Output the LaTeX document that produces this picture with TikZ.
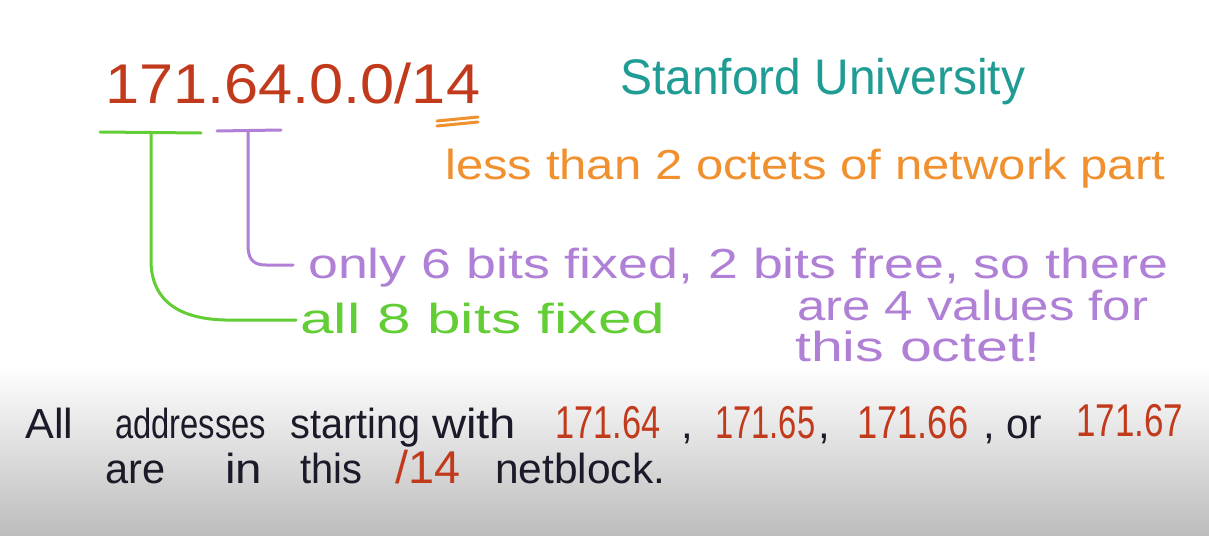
\documentclass[tikz,border=0pt]{standalone}
\usepackage{fontspec}
\setmainfont{Liberation Sans}
\usepackage{graphicx}
\definecolor{ipred}{HTML}{C23A1C}
\definecolor{teal2}{HTML}{1F9C94}
\definecolor{orng}{HTML}{F0902E}
\definecolor{purp}{HTML}{B07FD6}
\definecolor{grn}{HTML}{62CD35}
\definecolor{ink}{HTML}{1A1A28}
\definecolor{bggray}{HTML}{BDBDBD}
\newsavebox\fitbox
\newcommand\fitw[2]{\sbox\fitbox{#2}\pgfmathsetmacro\fitfac{#1/(\the\wd\fitbox)}\scalebox{\fitfac}[1]{\usebox\fitbox}}
\tikzset{
  txt/.style={anchor=base west, inner sep=0pt, font=\fontsize{42}{46}\selectfont},
  numtxt/.style={txt, font=\fontsize{46}{50}\selectfont},
  bigtxt/.style={txt, font=\fontsize{56}{60}\selectfont},
  pen/.style={line width=3pt, line cap=round, line join=round},
}
\begin{document}
\begin{tikzpicture}[x=1pt,y=-1pt]
\useasboundingbox (0,0) rectangle (1209,535);
\fill[white] (0,0) rectangle (1209,366);
\shade[top color=white, bottom color=bggray] (0,365) rectangle (1209,535);

% address
\node[bigtxt, text=ipred] (ip) at (105,103) {\fitw{375}{171.64.0.0/14}};
\draw[pen, orng] (437,121) -- (478,117);
\draw[pen, orng] (437,126) -- (478,122);

\node[txt, font=\fontsize{50}{54}\selectfont, text=teal2] (stan) at (620,94) {\fitw{405}{Stanford University}};
\node[txt, text=orng] (less) at (445,179) {\fitw{720}{less than 2 octets of network part}};

\node[txt, text=purp] (only) at (308,278) {\fitw{860}{only 6 bits fixed, 2 bits free, so there}};
\node[txt, text=purp] (are4) at (797,320) {\fitw{351}{are 4 values for}};
\node[txt, text=purp] (octet) at (795,361) {\fitw{245}{this octet!}};
\node[txt, text=grn] (all8) at (300,333) {\fitw{365}{all 8 bits fixed}};

% brackets
\coordinate (gL) at (100,132);
\coordinate (gR) at (201,133);
\coordinate (gM) at (151,132);
\draw[pen, grn] (gL) -- (gR);
\draw[pen, grn] (gM) -- (151,262) .. controls (152,305) and (185,319) .. (225,320) -- ([xshift=-4pt]all8.west |- 0,320);

\coordinate (pL) at (217,131);
\coordinate (pR) at (281,130);
\coordinate (pM) at (248,131);
\draw[pen, purp] (pL) -- (pR);
\draw[pen, purp] (pM) -- (248,248) .. controls (249,261) and (255,265) .. (266,265) -- ([xshift=-15pt]only.west |- 0,265);

% bottom text
\node[txt, text=ink] (w1) at (25,438) {\fitw{48}{All}};
\node[txt, text=ink] (w2) at (115,438) {\fitw{151}{addresses}};
\node[txt, text=ink] (w3) at (290,438) {\fitw{130}{starting}};
\node[txt, text=ink] (w4) at (432,438) {\fitw{84}{with}};
\node[numtxt, text=ipred] (a64) at (555,438) {\fitw{105}{171.64}};
\node[txt, text=ink] (c1) at (681,438) {,};
\node[numtxt, text=ipred] (a65) at (715,438) {\fitw{100}{171.65}};
\node[txt, text=ink] (c2) at (818,438) {,};
\node[numtxt, text=ipred] (a66) at (857,438) {\fitw{111}{171.66}};
\node[txt, text=ink] (c3) at (983,438) {,};
\node[txt, text=ink] (or) at (1006,438) {\fitw{36}{or}};
\node[numtxt, text=ipred] (a67) at (1076,436) {\fitw{107}{171.67}};

\node[txt, text=ink] (v1) at (105,483) {\fitw{60}{are}};
\node[txt, text=ink] (v2) at (225,483) {\fitw{37}{in}};
\node[txt, text=ink] (v3) at (300,483) {\fitw{62}{this}};
\node[numtxt, text=ipred] (v4) at (395,483) {\fitw{65}{/14}};
\node[txt, text=ink] (v5) at (495,483) {\fitw{170}{netblock.}};
\end{tikzpicture}
\end{document}
